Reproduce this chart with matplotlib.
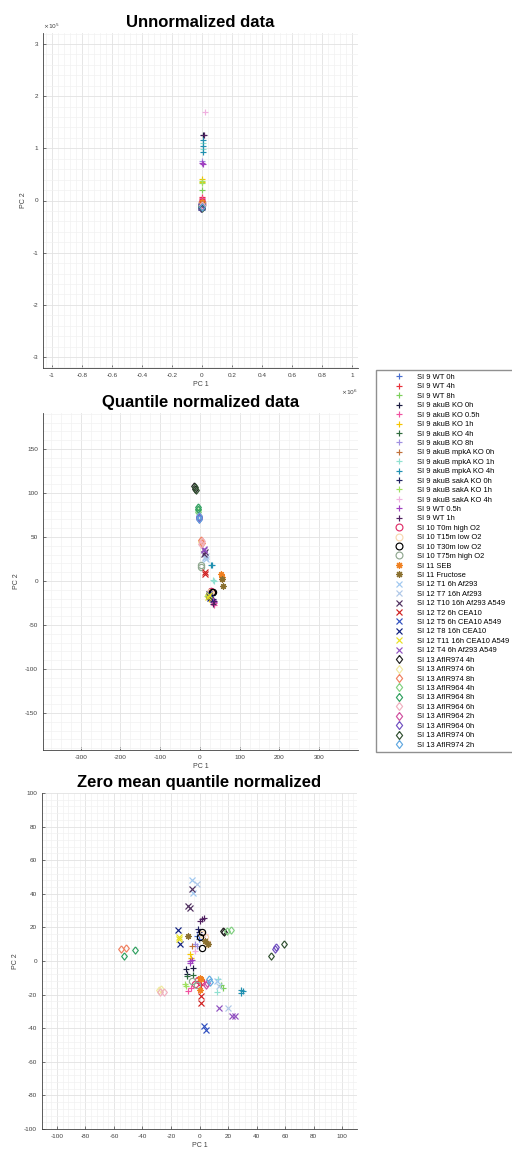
import numpy as np
import matplotlib.pyplot as plt
from matplotlib.ticker import MultipleLocator, AutoMinorLocator

plt.rcParams['font.family'] = ['Liberation Sans', 'DejaVu Sans']
plt.rcParams['axes.unicode_minus'] = False

labels = [
    'SI 9 WT 0h', 'SI 9 WT 4h', 'SI 9 WT 8h', 'SI 9 akuB KO 0h', 'SI 9 akuB KO 0.5h',
    'SI 9 akuB KO 1h', 'SI 9 akuB KO 4h', 'SI 9 akuB KO 8h', 'SI 9 akuB mpkA KO 0h',
    'SI 9 akuB mpkA KO 1h', 'SI 9 akuB mpkA KO 4h', 'SI 9 akuB sakA KO 0h',
    'SI 9 akuB sakA KO 1h', 'SI 9 akuB sakA KO 4h', 'SI 9 WT 0.5h', 'SI 9 WT 1h',
    'SI 10 T0m high O2', 'SI 10 T15m low O2', 'SI 10 T30m low O2', 'SI 10 T75m high O2',
    'SI 11 SEB', 'SI 11 Fructose',
    'SI 12 T1 6h Af293', 'SI 12 T7 16h Af293', 'SI 12 T10 16h Af293 A549',
    'SI 12 T2 6h CEA10', 'SI 12 T5 6h CEA10 A549', 'SI 12 T8 16h CEA10',
    'SI 12 T11 16h CEA10 A549', 'SI 12 T4 6h Af293 A549',
    'SI 13 AfIR974 4h', 'SI 13 AfIR974 6h', 'SI 13 AfIR974 8h', 'SI 13 AfIR964 4h',
    'SI 13 AfIR964 8h', 'SI 13 AfIR964 6h', 'SI 13 AfIR964 2h', 'SI 13 AfIR964 0h',
    'SI 13 AfIR974 0h', 'SI 13 AfIR974 2h',
]

star = (8, 2, 0)
diamond = [(0, 1), (0.78, 0), (0, -1), (-0.78, 0), (0, 1)]
markers = ['+'] * 16 + ['o'] * 4 + [star] * 2 + ['x'] * 8 + [diamond] * 10

colors = [
    '#4a6fd0', '#e8303a', '#7ccf5a', '#1a1a40', '#f050a0', '#f5c400', '#2e6b3c', '#a090e0',
    '#c0703a', '#90e0d0', '#2090b0', '#202060', '#a0e060', '#f0b0e0', '#a040c0', '#502060',
    '#e0306a', '#f8d8b0', '#000000', '#90a890',
    '#f08020', '#8a7030',
    '#a0c8f0', '#b0c8e8', '#503060', '#d02020', '#3050c0', '#102080', '#e8e020', '#9050c0',
    '#202020', '#f0e8a0', '#f08060', '#80d080', '#30a060', '#f0b0c0', '#d050a0', '#7050c0',
    '#305030', '#60a8e0',
]

# unnormalized scores (PC 1 in 1e6, PC 2 in 1e5)
unnorm_pc1 = [
    [-0.004], [-0.002, 0.0], [-0.002], [0.004], [-0.003, 0.0],
    [-0.003, 0.0], [-0.004, -0.003], [0.003], [0.0],
    [0.006, 0.005], [0.007, 0.004, 0.006], [-0.003],
    [0.0, 0.002], [0.021], [0.0, 0.004], [0.01],
    [-0.003, -0.002], [-0.002], [-0.003], [-0.002],
    [-0.002], [-0.003],
    [-0.003], [-0.002], [-0.003], [-0.002], [-0.003], [-0.004], [-0.002], [-0.003],
    [-0.004], [-0.003], [-0.002], [-0.003], [-0.004], [-0.002], [-0.003], [-0.004],
    [-0.003], [-0.002],
]
unnorm_pc2 = [
    [-0.05], [0.06, 0.03], [0.20], [1.26], [0.0, 0.05],
    [0.42, 0.35], [-0.10, -0.15], [0.75], [0.0],
    [1.10, 0.98], [1.15, 1.04, 0.92], [-0.12],
    [0.38, 0.33], [1.69], [0.72, 0.70], [1.25],
    [-0.02, -0.05], [-0.04], [-0.08], [-0.06],
    [-0.03], [-0.07],
    [-0.09], [-0.10], [-0.11], [-0.07], [-0.12], [-0.13], [-0.08], [-0.10],
    [-0.14], [-0.12], [-0.10], [-0.11], [-0.13], [-0.09], [-0.12], [-0.14],
    [-0.15], [-0.13],
]

# quantile normalized scores
qn_pc1 = [
    [22, 25], [26, 28], [20, 23], [30, 33], [36, 35],
    [21, 24], [27, 30], [29, 31], [24, 27],
    [35, 34], [29, 31], [32, 34],
    [22, 19], [28, 33], [34, 36], [33, 35],
    [28, 31], [25, 27], [30, 32], [2.5, 4],
    [53, 55, 56], [57, 55],
    [14, 15], [15, 13], [12, 11], [12.6, 14], [22, 24], [24, 26], [20, 22], [11, 10],
    [-14, -12], [4, 3], [3.5, 4.5], [-4, -5], [-6, -5], [5, 3], [-2, -3], [-3, -2],
    [-13, -11], [-2.5, -1.5],
]
qn_pc2 = [
    [-17, -18], [-13, -15], [-16, -19], [-22, -24], [-27, -25],
    [-18, -20], [-14, -16], [-12, -13], [-11, -14],
    [0, 1], [18.5, 18], [-20, -23],
    [-15, -17], [-10, -12], [-21, -24], [-26, -23],
    [-11, -13], [-12, -14], [-12, -13], [18, 16],
    [8, 4.5, 2.6], [-5.7, 2],
    [27, 25], [29, 26], [33, 31], [10, 8], [-15, -17], [-17, -19], [-18, -16], [35.5, 37],
    [108, 105], [46, 44], [47, 43], [81, 79], [84, 82], [45, 42], [72, 74], [73, 71],
    [107, 104], [74, 70],
]

# zero mean quantile normalized scores
zm_pc1 = [
    [-2, -0.5], [-1, 1], [15, 16.5], [-9.5, -9, -4.5], [-8, -6],
    [-7, -6], [-4.5, -9], [-3, -2], [-5, 5, 6],
    [12, 13], [29, 30.8, 29], [-1.2, -0.5],
    [-10.5, -9.5], [-3, 4], [-7, -5.5, -6.5], [0, 1.5, 3],
    [-3, -1, 1], [2, 4, 5], [2, 2, 0], [-5, -2],
    [0, 1, 0], [-8, 4, 6],
    [-5.6, -4.9, 12.5], [-2.1, 20, 14], [-5.6, -8, -6.4], [1, 1.4], [3.5, 4.7],
    [-15.3, -13.9], [-14.6, -14.3], [13.6, 22.6, 25],
    [16.7, 17.5], [-27, -28.5], [-55, -51.8], [21.9, 19.5], [-53, -45.2],
    [-28, -25.2], [4.7, 5.4], [53, 54], [50, 59.5], [6.6, 7.3],
]
zm_pc2 = [
    [15, 13], [-12, -14], [-14, -16], [-5, -7.5, -4], [-18, -16],
    [4, 2], [-8.5, -9], [10, 9], [9, 12, 10],
    [-18.5, -11], [-17, -18, -19], [19, 17],
    [-13.5, -15], [6, 16], [0, 0.5, -1], [24, 25, 25.5],
    [-13.5, -11.5, -12], [16, 14, 10], [17, 7.5, 14], [-12, -14],
    [-10, -11, -17.5], [15, 12, 10],
    [48.4, 40.2, -12], [45.6, -28, -15], [42.6, 32.6, 31.6], [-20.6, -25], [-38.6, -41],
    [18.4, 10], [14, 13], [-28, -33, -33],
    [17.6, 17], [-16.5, -17.5], [7, 7.8], [18.6, 18], [2.8, 6.6],
    [-18.6, -18.6], [-14.4, -13], [7.4, 8.6], [2.8, 10], [-11, -12.4],
]

fig = plt.figure(figsize=(5.12, 11.49), dpi=100)

panels = [
    ('Unnormalized data', unnorm_pc1, unnorm_pc2,
     [43, 33, 358, 368], (-1.06, 1.04), (-3.21, 3.21), 0.2, 1),
    ('Quantile normalized data', qn_pc1, qn_pc2,
     [43, 413, 358, 750], (-395, 398), (-192, 191), 100, 50),
    ('Zero mean quantile normalized', zm_pc1, zm_pc2,
     [42, 793, 357, 1129], (-110.5, 110.5), (-100, 100), 20, 20),
]

W, H = 512, 1149
handles = []
for k, (title, xs, ys, box, xlim, ylim, xstep, ystep) in enumerate(panels):
    l, t, r, b = box
    ax = fig.add_axes([l / W, 1 - b / H, (r - l) / W, (b - t) / H])
    for i in range(len(labels)):
        h, = ax.plot(xs[i], ys[i], linestyle='none', marker=markers[i],
                     color=colors[i], markerfacecolor='none',
                     markersize=5.2 if i >= 30 else 4.5,
                     markeredgewidth=0.85, label=labels[i])
        if k == 0:
            handles.append(h)
    ax.set_xlim(*xlim)
    ax.set_ylim(*ylim)
    ax.xaxis.set_major_locator(MultipleLocator(xstep))
    ax.yaxis.set_major_locator(MultipleLocator(ystep))
    ax.xaxis.set_minor_locator(AutoMinorLocator(5 if k != 1 else 4))
    ax.yaxis.set_minor_locator(AutoMinorLocator(5))
    ax.grid(True, which='major', color='#e2e2e2', linewidth=0.6)
    ax.grid(True, which='minor', color='#f1f1f1', linewidth=0.5)
    ax.set_axisbelow(True)
    for s in ['top', 'right']:
        ax.spines[s].set_visible(False)
    for s in ['left', 'bottom']:
        ax.spines[s].set_color('#404040')
        ax.spines[s].set_linewidth(0.6)
    ax.tick_params(which='both', direction='in', labelsize=4.6, colors='#404040',
                   length=2.5, width=0.5)
    ax.tick_params(which='minor', length=0)
    ax.set_xlabel('PC 1', fontsize=5, color='#404040', labelpad=2)
    ax.set_ylabel('PC 2', fontsize=5, color='#404040', labelpad=4)
    ax.set_title(title, fontsize=12, fontweight='bold', pad=4)
    if k == 0:
        ax.xaxis.set_major_formatter(plt.FuncFormatter(lambda v, p: f'{round(v, 6):g}'))
        ax.text(0.0, 1.005, r'$\times10^{5}$', transform=ax.transAxes,
                fontsize=4.3, color='#404040', ha='left', va='bottom')
        ax.text(1.0, -0.06, r'$\times10^{6}$', transform=ax.transAxes,
                fontsize=4.3, color='#404040', ha='right', va='top')

fig.legend(handles=handles, labels=labels, loc='upper left',
           bbox_to_anchor=(376 / W, 1 - 370 / H), fontsize=5.4,
           frameon=True, fancybox=False, edgecolor='#909090', framealpha=1,
           borderpad=0.5, labelspacing=0.29, handlelength=5.0, handletextpad=0.0,
           borderaxespad=0, markerscale=1.1)

fig.savefig('out.png', dpi=100)
